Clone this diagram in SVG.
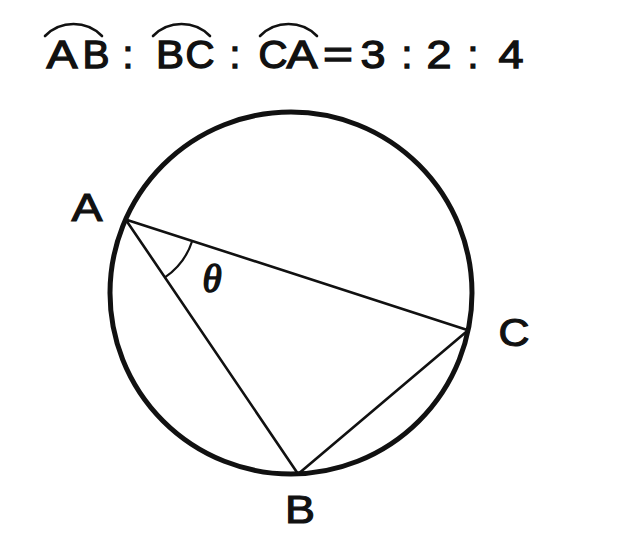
<svg xmlns="http://www.w3.org/2000/svg" width="624" height="549" viewBox="0 0 624 549">
<style>
.t{font-family:"Liberation Sans",Arial,sans-serif;font-size:39px;fill:#111;stroke:#111;stroke-width:1.3;text-anchor:middle}
.l{font-family:"Liberation Sans",Arial,sans-serif;font-size:38px;fill:#111;stroke:#111;stroke-width:1.1;text-anchor:middle}
.arc{fill:none;stroke:#111;stroke-width:2.6;stroke-linecap:round}
.chord{fill:none;stroke:#111;stroke-width:2.6;stroke-linecap:round}
</style>
<rect width="624" height="549" fill="#fff"/>
<g id="title">
<path class="arc" d="M45,36 A40,40 0 0 1 102,36"/>
<path class="arc" d="M153,36 A40,40 0 0 1 210,36"/>
<path class="arc" d="M260,36 A40,40 0 0 1 317,36"/>
<text class="t" x="62" y="68" textLength="31" lengthAdjust="spacingAndGlyphs">A</text>
<text class="t" x="96" y="68" textLength="27" lengthAdjust="spacingAndGlyphs">B</text>
<text class="t" x="128" y="68">:</text>
<text class="t" x="170" y="68" textLength="28" lengthAdjust="spacingAndGlyphs">B</text>
<text class="t" x="200" y="68" textLength="29" lengthAdjust="spacingAndGlyphs">C</text>
<text class="t" x="235" y="68">:</text>
<text class="t" x="273" y="68" textLength="29" lengthAdjust="spacingAndGlyphs">C</text>
<text class="t" x="302" y="68" textLength="31" lengthAdjust="spacingAndGlyphs">A</text>
<text class="t" x="338" y="68" textLength="30" lengthAdjust="spacingAndGlyphs">=</text>
<text class="t" x="373" y="68" textLength="25" lengthAdjust="spacingAndGlyphs">3</text>
<text class="t" x="407" y="68">:</text>
<text class="t" x="439" y="68" textLength="25" lengthAdjust="spacingAndGlyphs">2</text>
<text class="t" x="473" y="68">:</text>
<text class="t" x="511" y="68" textLength="25" lengthAdjust="spacingAndGlyphs">4</text>
</g>
<g id="circle">
<circle cx="291" cy="293" r="181" fill="none" stroke="#111" stroke-width="5"/>
</g>
<g id="connectors">
<path class="chord" d="M125.6,219.4 L468.1,330.2 L298.1,473.9 Z" stroke-linejoin="round"/>
<path fill="none" stroke="#111" stroke-width="2.2" d="M192.2,241.0 A70,70 0 0 1 164.9,277.4"/>
</g>
<g id="A"><text class="l" x="87" y="221" textLength="31" lengthAdjust="spacingAndGlyphs">A</text></g>
<g id="B"><text class="l" x="300" y="523" textLength="30" lengthAdjust="spacingAndGlyphs">B</text></g>
<g id="C"><text class="l" x="514" y="346" textLength="31" lengthAdjust="spacingAndGlyphs">C</text></g>
<g id="theta"><text x="212" y="292" font-family="Liberation Serif,serif" font-style="italic" font-size="39" fill="#111" stroke="#111" stroke-width="1.5" text-anchor="middle">θ</text></g>
</svg>
